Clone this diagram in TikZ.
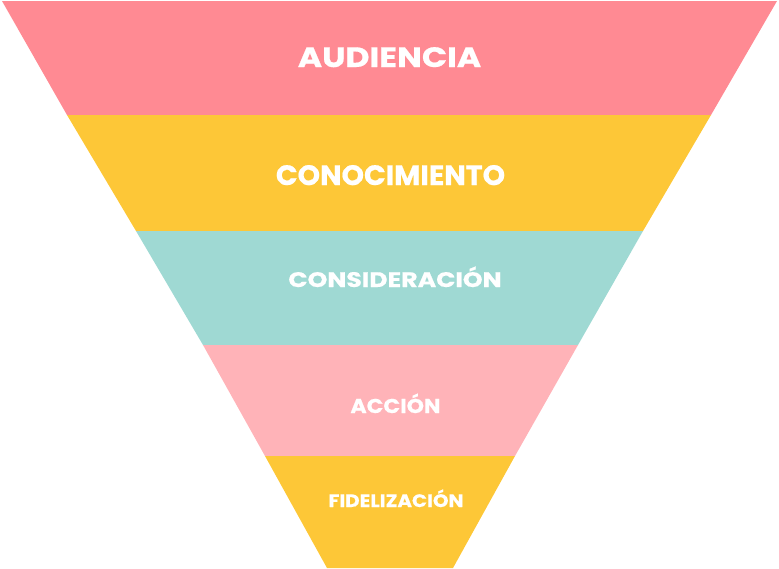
\documentclass[tikz,border=0pt]{standalone}
\usepackage{fontspec}
\setmainfont{Poppins}[BoldFeatures={FakeBold=0.6}]
\usetikzlibrary{positioning}
\definecolor{rosa}{HTML}{FF8A93}
\definecolor{amarillo}{HTML}{FDC737}
\definecolor{turquesa}{HTML}{9FD9D3}
\definecolor{rosaclaro}{HTML}{FFB3B8}
\tikzset{etiqueta/.style={text=white, anchor=base, inner sep=0pt}}
\newcommand{\ancho}[2]{\scalebox{#1}[1]{#2}}

\begin{document}
\begin{tikzpicture}[x=1pt,y=-1pt]
\useasboundingbox (0,0) rectangle (779,568);

\def\ya{1};
\def\yb{115};
\def\yc{231};
\def\yd{345};
\def\ye{456};
\def\yf{568};

% bandas del embudo
\fill[rosa] (2,\ya) -- (777,\ya) -- (711,\yb) -- (67,\yb) -- cycle;
\fill[amarillo] (67,\yb) -- (711,\yb) -- (643,\yc) -- (136,\yc) -- cycle;
\fill[turquesa] (136,\yc) -- (643,\yc) -- (578,\yd) -- (203,\yd) -- cycle;
\fill[rosaclaro] (203,\yd) -- (578,\yd) -- (515,\ye) -- (265,\ye) -- cycle;
\fill[amarillo] (265,\ye) -- (515,\ye) -- (453,\yf) -- (327,\yf) -- cycle;

\node[etiqueta, font=\bfseries\fontsize{28}{28}\selectfont] (audiencia) at (389.5,67) {\ancho{1.18}{AUDIENCIA}};
\node[etiqueta, font=\bfseries\fontsize{28}{28}\selectfont] (conocimiento) at (390.5,185) {\ancho{1.02}{CONOCIMIENTO}};
\node[etiqueta, font=\bfseries\fontsize{21}{21}\selectfont] (consideracion) at (395,287) {\ancho{1.2}{CONSIDERACIÓN}};
\node[etiqueta, font=\bfseries\fontsize{20}{20}\selectfont] (accion) at (395.5,413) {\ancho{1.1}{ACCIÓN}};
\node[etiqueta, font=\bfseries\fontsize{18}{18}\selectfont] (fidelizacion) at (396,507) {\ancho{1.1}{FIDELIZACIÓN}};
\end{tikzpicture}
\end{document}
